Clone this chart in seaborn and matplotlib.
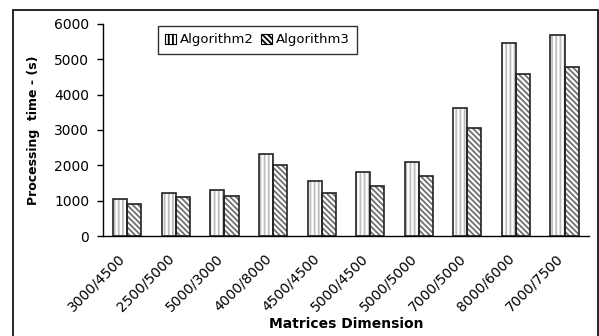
import matplotlib
matplotlib.use("Agg")
import matplotlib.pyplot as plt
import matplotlib.transforms as mtransforms
import seaborn as sns
import pandas as pd
from matplotlib.patches import Rectangle, Patch

categories = ["3000/4500", "2500/5000", "5000/3000", "4000/8000", "4500/4500",
              "5000/4500", "5000/5000", "7000/5000", "8000/6000", "7000/7500"]
algorithm2 = [1040, 1205, 1300, 2330, 1545, 1820, 2085, 3630, 5470, 5680]
algorithm3 = [905, 1110, 1140, 2000, 1210, 1425, 1695, 3045, 4585, 4790]
series_names = ["Algorithm2", "Algorithm3"]
y_ticks = [0, 1000, 2000, 3000, 4000, 5000, 6000]

df = pd.DataFrame({
    "cat": categories * 2,
    "val": algorithm2 + algorithm3,
    "alg": [series_names[0]] * len(categories) + [series_names[1]] * len(categories),
})

sns.set_style("white")
plt.rcParams["font.family"] = ["DejaVu Sans"]
plt.rcParams["text.color"] = "black"
plt.rcParams["axes.labelcolor"] = "black"
plt.rcParams["xtick.color"] = "black"
plt.rcParams["ytick.color"] = "black"
plt.rcParams["hatch.linewidth"] = 1.3

fig = plt.figure(figsize=(5.99, 3.36), dpi=100)
ax = fig.add_axes([0.172, 0.2976, 0.811, 0.631])

sns.barplot(data=df, x="cat", y="val", hue="alg", order=categories,
            hue_order=series_names, palette=["white", "white"],
            width=0.58, gap=0, ax=ax, legend=False)

hatches = {series_names[0]: "||||", series_names[1]: "\\" * 6}
hcolors = {series_names[0]: "#bcbcbc", series_names[1]: "#707070"}
for cont, name in zip(ax.containers, series_names):
    for p in cont.patches:
        p.set_hatch(hatches[name])
        p.set_edgecolor(hcolors[name])
        p.set_linewidth(0)
        ax.add_patch(Rectangle(p.get_xy(), p.get_width(), p.get_height(),
                               fill=False, edgecolor="#222222", linewidth=1.2, zorder=3))

ax.set_ylim(0, 6000)
ax.set_yticks(y_ticks)
ax.set_yticklabels([str(t) for t in y_ticks], fontsize=10)
ax.set_xlim(-0.5, len(categories) - 0.5)
ax.set_xticks([i - 0.5 for i in range(len(categories) + 1)], minor=False)
ax.set_xticklabels([""] * (len(categories) + 1))
ax.set_xticks(range(len(categories)), minor=True)
ax.tick_params(axis="x", which="minor", length=0, pad=5)
ax.tick_params(axis="x", which="major", length=4, width=1, direction="out", color="black")
ax.tick_params(axis="y", length=4, width=1, direction="out", color="black", left=True, pad=6)
ax.set_xticklabels(categories, minor=True, rotation=45, ha="right",
                   rotation_mode="anchor", fontsize=10)
offset = mtransforms.ScaledTranslation(-0.09, -0.08, fig.dpi_scale_trans)
for lbl in ax.get_xticklabels(minor=True):
    lbl.set_transform(lbl.get_transform() + offset)

for s in ["top", "right"]:
    ax.spines[s].set_visible(False)
for s in ["left", "bottom"]:
    ax.spines[s].set_color("black")
    ax.spines[s].set_linewidth(1.0)

ax.set_xlabel("Matrices Dimension", fontsize=10, fontweight="bold", labelpad=2)
ax.set_ylabel("Processing  time - (s)", fontsize=9, fontweight="bold", labelpad=10)

handles = [Patch(facecolor="white", edgecolor="black", hatch=hatches[n], linewidth=0.8)
           for n in series_names]
leg = ax.legend(handles, series_names, ncol=2, loc="upper left",
                bbox_to_anchor=(0.113, 0.99), frameon=True, fancybox=False,
                fontsize=9.5, handlelength=0.8, handleheight=0.8,
                handletextpad=0.3, columnspacing=0.6, borderpad=0.55,
                borderaxespad=0)
leg.get_frame().set_edgecolor("black")
leg.get_frame().set_linewidth(1.0)

fig.patches.append(Rectangle((13 / 599, -1.0), (599 - 13 - 1) / 599, 2 - 10 / 336,
                             transform=fig.transFigure, fill=False,
                             edgecolor="black", linewidth=1.2))

fig.savefig("out.png", dpi=100)
